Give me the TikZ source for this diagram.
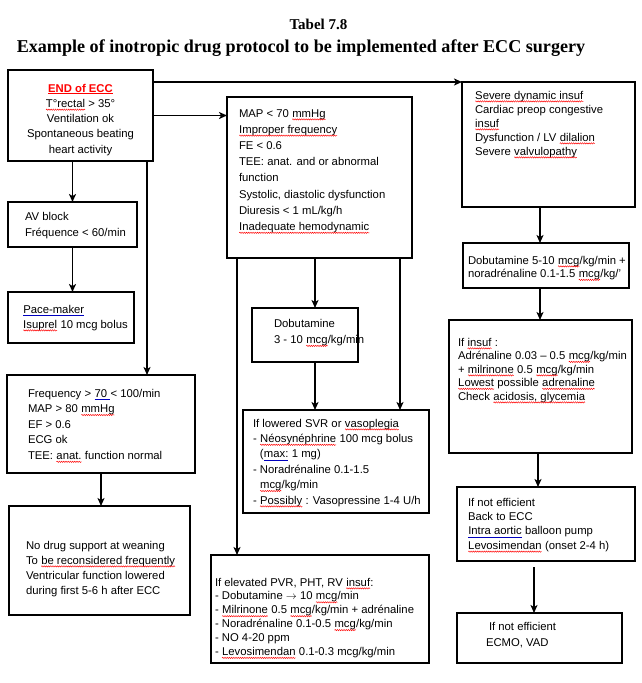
\documentclass[tikz,border=0pt]{standalone}
\usepackage{fontspec}
\setmainfont{Liberation Serif}
\setsansfont{Liberation Sans}
\newfontfamily\tnr{Liberation Serif}
\usetikzlibrary{arrows.meta,calc,decorations.pathmorphing}

\newcommand\sq[1]{\tikz[baseline=(w.base)]{\node[inner sep=0pt,outer sep=0pt,anchor=base west,font={}](w) at (0,0){#1};\draw[red,line width=0.45pt,decorate,decoration={snake,segment length=2.2pt,amplitude=0.65pt}]([yshift=-2.4pt]w.base west)--([yshift=-2.4pt]w.base east);}}
\newcommand\bu[1]{\tikz[baseline=(w.base)]{\node[inner sep=0pt,outer sep=0pt,anchor=base west,font={}](w) at (0,0){#1};\draw[blue!75!black,line width=0.6pt]([yshift=-2pt]w.base west)--([yshift=-2pt]w.base east);}}
\newcommand\tst{\rule{0pt}{10pt}}

\begin{document}
\begin{tikzpicture}[x=1pt,y=-1pt,
  box/.style={draw, line width=1.8pt, inner sep=0pt, outer sep=0pt, anchor=north west},
  txt/.style={anchor=north west, inner sep=0pt, outer sep=0pt, align=left,
              font=\sffamily\fontsize{11.3}{#1}\selectfont},
  arr/.style={line width=1.8pt, -{Stealth[length=8pt,width=7pt,inset=2pt]}}]

\useasboundingbox (0,0) rectangle (641,683);

% titles
\node[anchor=base, inner sep=0pt, font=\tnr\bfseries\fontsize{15}{15}\selectfont] (tab) at (318.5,29) {Tabel 7.8};
\node[anchor=base, inner sep=0pt, font=\tnr\bfseries\fontsize{18.1}{20}\selectfont] (ttl) at (301,52) {Example of inotropic drug protocol to be implemented after ECC surgery};

% boxes
\node[box, minimum width=145pt, minimum height=91pt]  (endecc) at (8,70) {};
\node[box, minimum width=129pt, minimum height=45pt]  (avb)    at (8,202) {};
\node[box, minimum width=126pt, minimum height=51pt]  (pace)   at (8,292) {};
\node[box, minimum width=188pt, minimum height=98pt]  (freq)   at (7,375) {};
\node[box, minimum width=181pt, minimum height=109pt] (nodrug) at (9,506) {};
\node[box, minimum width=185pt, minimum height=161pt] (mid)    at (227,97) {};
\node[box, minimum width=106pt, minimum height=54pt]  (dobu)   at (252,308) {};
\node[box, minimum width=186pt, minimum height=103pt] (svr)    at (243,410) {};
\node[box, minimum width=218pt, minimum height=108pt] (pvr)    at (211,555) {};
\node[box, minimum width=173pt, minimum height=125pt] (rbox)   at (462,82) {};
\node[box, minimum width=166pt, minimum height=45pt]  (dobu2)  at (463,243) {};
\node[box, minimum width=183pt, minimum height=133pt] (insuf)  at (449,320) {};
\node[box, minimum width=178pt, minimum height=74pt]  (eff)    at (457,487) {};
\node[box, minimum width=165pt, minimum height=50pt]  (ecmo)   at (457,613) {};

% texts
\node[txt=15.3, anchor=north, align=center] (tendecc) at (80.5,82)
  {\tst\textcolor{red}{\textbf{\underline{END of ECC}}}\\\sq{T°rectal} > 35°\\Ventilation ok\\Spontaneous beating\\heart activity};
\node[txt=16] (tavb) at (25,210) {\tst AV block\\Fréquence < 60/min};
\node[txt=15] (tpace) at (23,303) {\tst\bu{Pace-maker}\\\sq{Isuprel} 10 mcg bolus};
\node[txt=15.6] (tfreq) at (28,387) {\tst Frequency > \bu{70\ }< 100/min\\MAP > 80 \sq{mmHg}\\EF > 0.6\\ECG ok\\TEE: \sq{anat.} function normal};
\node[txt=15] (tnodrug) at (26,539) {\tst No drug support at weaning\\To \sq{be reconsidered frequently}\\Ventricular function lowered\\during first 5-6 h after ECC};
\node[txt=16.2] (tmid) at (239,107) {\tst MAP < 70 \sq{mmHg}\\\sq{Improper frequency}\\FE < 0.6\\TEE: anat. and or abnormal\\function\\Systolic, diastolic dysfunction\\Diuresis < 1 mL/kg/h\\\sq{Inadequate hemodynamic}};
\node[txt=16.5] (tdobu) at (274,317) {\tst Dobutamine\\3 - 10 \sq{mcg}/kg/min};
\node[txt=15.4] (tsvr) at (253,417) {\tst If lowered SVR or \sq{vasoplegia}\\- \sq{Néosynéphrine} 100 mcg bolus\\\phantom{- }(\bu{max:} 1 mg)\\- Noradrénaline 0.1-1.5\\\phantom{- }\sq{mcg}/kg/min\\- \sq{Possibly} : Vasopressine 1-4 U/h};
\node[txt=13.9] (tpvr) at (215,576) {\tst If elevated PVR, PHT, RV \sq{insuf}:\\- Dobutamine $\rightarrow$ 10 \sq{mcg}/min\\- \sq{Milrinone} 0.5 \sq{mcg}/kg/min + adrénaline\\- Noradrénaline 0.1-0.5 \sq{mcg}/kg/min\\- NO 4-20 ppm\\- \sq{Levosimendan} 0.1-0.3 mcg/kg/min};
\node[txt=14] (trbox) at (475,89) {\tst\sq{Severe dynamic insuf}\\Cardiac preop congestive\\\sq{insuf}\\Dysfunction / LV \sq{dilalion}\\Severe \sq{valvulopathy}};
\node[txt=13.5] (tdobu2) at (468,254) {\tst Dobutamine 5-10 \sq{mcg}/kg/min +\\noradrénaline 0.1-1.5 \sq{mcg}/kg/’};
\node[txt=13.5] (tinsuf) at (458,336) {\tst If \sq{insuf} :\\Adrénaline 0.03 – 0.5 \sq{mcg}/kg/min\\+ \sq{milrinone} 0.5 \sq{mcg}/kg/min\\\sq{Lowest} possible \sq{adrenaline}\\Check \sq{acidosis, glycemia}};
\node[txt=14.4] (teff) at (468,496) {\tst If not efficient\\Back to ECC\\\bu{Intra aortic} balloon pump\\\sq{Levosimendan} (onset 2-4 h)};
\node[txt=16] (tecmo) at (486,620) {\tst\hspace{3pt}If not efficient\\ECMO, VAD};

% connectors
\draw[arr] (endecc.east |- rbox.north west) -- (rbox.north west);
\draw[arr] (endecc.east) -- (endecc.east -| mid.west);
\draw[arr] (endecc.south -| avb.north) -- (avb.north);
\draw[arr] (avb.south) -- (avb.south |- pace.north);
\coordinate (e1) at ($(endecc.south east)+(-6,0)$);
\draw[arr] (e1) -- (e1 |- freq.north);
\draw[arr] (freq.south) -- (freq.south |- nodrug.north);
\coordinate (m1) at ($(mid.south west)+(10,0)$);
\coordinate (m2) at ($(mid.south west)+(88,0)$);
\coordinate (m3) at ($(mid.south west)+(173,0)$);
\draw[arr] (m1) -- (m1 |- pvr.north);
\draw[arr] (m2) -- (m2 |- dobu.north);
\draw[arr] (dobu.south -| m2) -- (m2 |- svr.north);
\draw[arr] (m3) -- (m3 |- svr.north);
\coordinate (r1) at ($(rbox.south west)+(78,0)$);
\draw[arr] (r1) -- (r1 |- dobu2.north);
\draw[arr] (dobu2.south -| r1) -- (r1 |- insuf.north);
\coordinate (r2) at ($(insuf.south west)+(89,0)$);
\draw[arr] (r2) -- (r2 |- eff.north);
\coordinate (f1) at ($(eff.south west)+(77,6)$);
\draw[arr] (f1) -- (f1 |- ecmo.north);
\end{tikzpicture}
\end{document}
